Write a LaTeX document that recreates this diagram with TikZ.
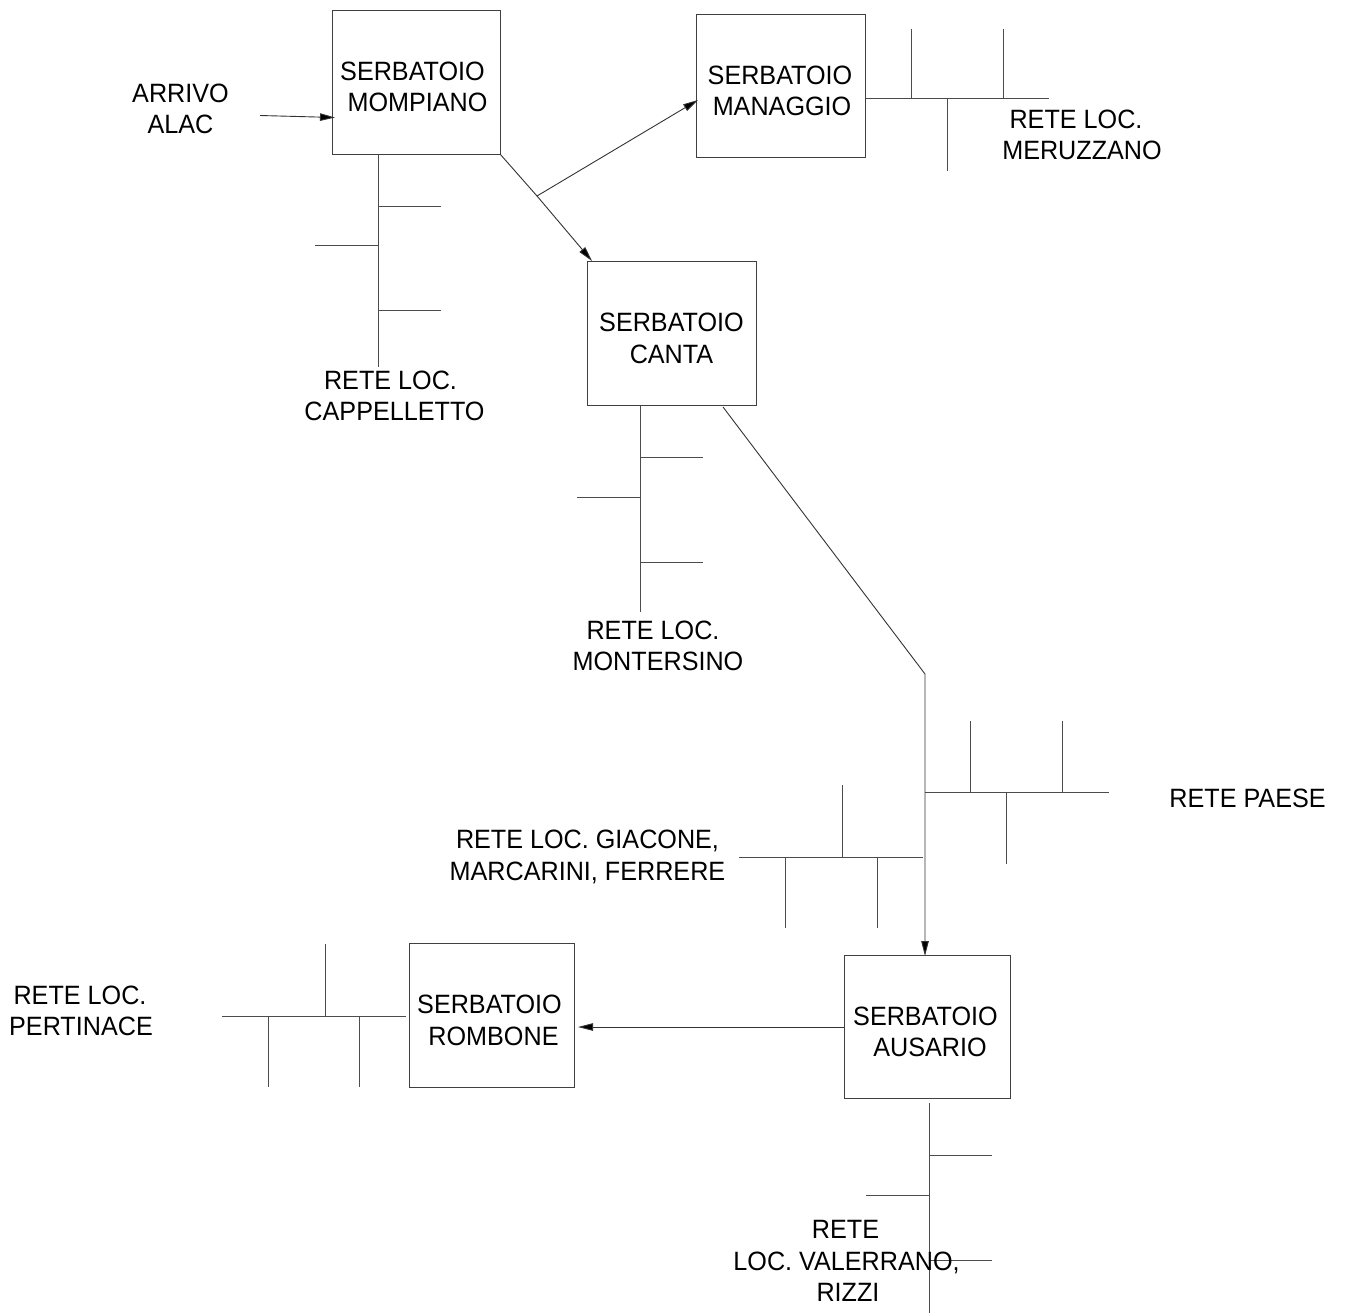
\documentclass[tikz,border=0pt]{standalone}
\usepackage{fontspec}
\setmainfont[FakeStretch=0.95]{Liberation Sans}
\usetikzlibrary{arrows.meta}
\tikzset{
  tank/.style={draw=black!75,line width=1pt,inner sep=0pt},
  pipe/.style={draw=black!70,line width=1pt},
  flow/.style={draw=black!80,line width=0.9pt,-{Triangle[length=15pt,width=7.5pt,fill=black]}},
  lab/.style={align=center,font=\fontsize{26.5pt}{31.5pt}\selectfont,inner sep=0pt,text=black},
}
\newcommand{\sh}[1]{\hspace*{#1pt}}
\begin{document}
\begin{tikzpicture}[x=1pt,y=-1pt]
\useasboundingbox (0,0) rectangle (1346,1313);
% boxes
\node[tank,minimum width=168pt,minimum height=144pt] (mom) at (416.5,82.5) {};
\node[tank,minimum width=169pt,minimum height=143pt] (man) at (781,86) {};
\node[tank,minimum width=169pt,minimum height=144pt] (can) at (671.5,333.5) {};
\node[tank,minimum width=165pt,minimum height=144pt] (rom) at (491.5,1015) {};
\node[tank,minimum width=166pt,minimum height=143pt] (aus) at (927,1026.5) {};
% networks
\draw[pipe] (378,155) -- (378,367);
\draw[pipe] (378,207) -- (441,207) (315,246) -- (378,246) (378,311) -- (441,311);
\draw[pipe] (640,406) -- (640,612);
\draw[pipe] (640,457) -- (703,457) (577,497) -- (640,497) (640,562) -- (703,562);
\draw[pipe] (866,99) -- (1049,99);
\draw[pipe] (911,29) -- (911,99) (1003,29) -- (1003,99) (947,99) -- (947,171);
\draw[pipe] (925,792) -- (1109,792);
\draw[pipe] (970,721) -- (970,792) (1062,721) -- (1062,792) (1006,792) -- (1006,864);
\draw[pipe] (739,857) -- (923,857);
\draw[pipe] (842,785) -- (842,857) (785,857) -- (785,928) (877,857) -- (877,928);
\draw[pipe] (222,1016) -- (406,1016);
\draw[pipe] (325,944) -- (325,1016) (268,1016) -- (268,1087) (359,1016) -- (359,1087);
\draw[pipe] (929,1103) -- (929,1313);
\draw[pipe] (929,1155) -- (992,1155) (866,1195) -- (929,1195) (929,1260) -- (992,1260);
% box labels
\node[lab] (t1) at (412.5,87) {SERBATOIO\\\sh{10}MOMPIANO};
\node[lab] (t2) at (780,91) {SERBATOIO\\\sh{4}MANAGGIO};
\node[lab] (t3) at (671.5,338.5) {SERBATOIO\\CANTA};
\node[lab] (t4) at (489.5,1020.5) {SERBATOIO\\\sh{8}ROMBONE};
\node[lab] (t5) at (925.5,1032) {SERBATOIO\\\sh{9}AUSARIO};
% other labels
\node[lab] (l1) at (180.5,109) {ARRIVO\\ALAC};
\node[lab] (l2) at (390.5,396) {RETE LOC.\\\sh{8}CAPPELLETTO};
\node[lab] (l3) at (1076,135) {RETE LOC.\\\sh{12}MERUZZANO};
\node[lab] (l4) at (653,646) {RETE LOC.\\\sh{10}MONTERSINO};
\node[lab] (l5) at (1247.5,798) {RETE PAESE};
\node[lab] (l6) at (587.5,857) {RETE LOC. GIACONE,\\MARCARINI, FERRERE};
\node[lab] (l7) at (80,1011) {RETE LOC.\\\sh{2}PERTINACE};
\node[lab] (l8) at (845.5,1261) {RETE\\\sh{2}LOC. VALERRANO,\\\sh{5}RIZZI};
% coordinates
\coordinate (a0) at (260,115.5);
\coordinate (a1) at (335,117.5);
\coordinate (j) at (537,196);
\coordinate (momc) at (500,154);
\coordinate (mana) at (698,100);
\coordinate (cana) at (592,261);
\coordinate (c0) at (723,407);
\coordinate (c1) at (925,674);
\coordinate (ausa) at (925,956);
\coordinate (ause) at (844,1027);
\coordinate (rome) at (578,1027);
% arrows
\draw[flow] (a0) -- (a1);
\draw[flow,-] (momc) -- (j);
\draw[flow] (j) -- (mana);
\draw[flow] (j) -- (cana);
\draw[flow] (c0) -- (c1) -- (ausa);
\draw[flow] (ause) -- (rome);
\end{tikzpicture}
\end{document}
